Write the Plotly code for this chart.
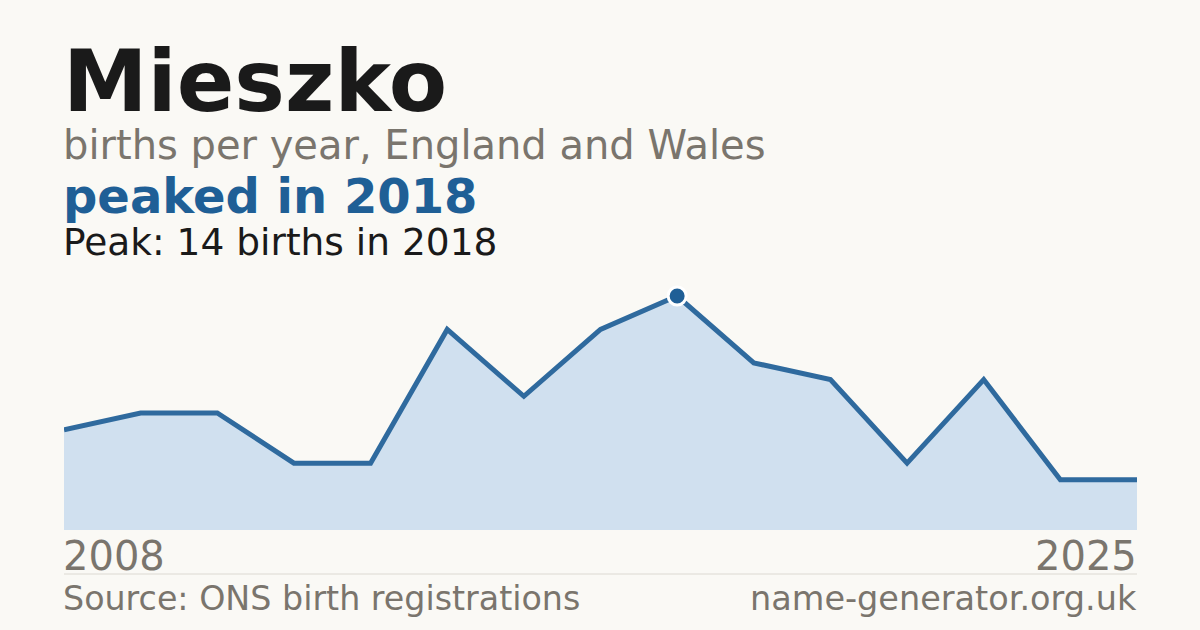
import plotly.graph_objects as go

# ── data ─────────────────────────────────────────────────────────────────────
NAME = "Mieszko"
YEARS = ["2008", "2009", "2010", "2011", "2012", "2014", "2016", "2017",
         "2018", "2019", "2020", "2021", "2022", "2024", "2025"]
BIRTHS = [6, 7, 7, 4, 4, 12, 8, 12, 14, 10, 9, 4, 9, 3, 3]
PEAK_YEAR = "2018"
PEAK_VALUE = 14

# ── colours ──────────────────────────────────────────────────────────────────
BG = "#faf9f5"
BLUE = "#1f5f96"
LINE = "#2f6a9e"
FILL = "#d0e0ef"
GREY = "#7a756d"
INK = "#1a1a1a"
FONT = "DejaVu Sans"

W, H = 1200, 630
PLOT_L, PLOT_R, PLOT_T, PLOT_B = 64, 1137, 296, 530


def py(ypx):
    """pixel y -> paper y"""
    return (PLOT_B - ypx) / (PLOT_B - PLOT_T)


def px(xpx):
    return (xpx - PLOT_L) / (PLOT_R - PLOT_L)


fig = go.Figure()

fig.add_trace(go.Scatter(
    x=YEARS, y=BIRTHS,
    mode="lines",
    fill="tozeroy",
    fillcolor=FILL,
    line=dict(color=LINE, width=5),
    hoverinfo="skip",
    cliponaxis=False,
))

fig.add_trace(go.Scatter(
    x=[PEAK_YEAR], y=[PEAK_VALUE],
    mode="markers",
    marker=dict(color=BLUE, size=18, line=dict(color="white", width=3)),
    hoverinfo="skip",
    cliponaxis=False,
))

texts = [
    # text, x px, y px (middle), size, color, bold
    (NAME, 61, 82, 85, INK, True),
    ("births per year, England and Wales", 61, 145, 40, GREY, False),
    ("peaked in 2018", 61, 196, 48, BLUE, True),
    ("Peak: 14 births in 2018", 61, 242, 37.5, INK, False),
    ("Source: ONS birth registrations", 61, 598, 33.3, GREY, False),
]
annotations = []
for t, x, y, s, c, b in texts:
    annotations.append(dict(
        text=f"<b>{t}</b>" if b else t,
        xref="paper", yref="paper", x=px(x), y=py(y),
        xanchor="left", yanchor="middle", showarrow=False,
        font=dict(family=FONT, size=s, color=c),
    ))
annotations.append(dict(
    text="name-generator.org.uk", xref="paper", yref="paper",
    x=px(1139), y=py(598), xanchor="right", yanchor="middle", showarrow=False,
    font=dict(family=FONT, size=33.5, color=GREY),
))
# first / last year labels
annotations.append(dict(
    text=YEARS[0], xref="paper", yref="paper", x=px(61), y=py(556),
    xanchor="left", yanchor="middle", showarrow=False,
    font=dict(family=FONT, size=40, color=GREY),
))
annotations.append(dict(
    text=YEARS[-1], xref="paper", yref="paper", x=px(1139), y=py(556),
    xanchor="right", yanchor="middle", showarrow=False,
    font=dict(family=FONT, size=40, color=GREY),
))

fig.update_layout(
    width=W, height=H,
    paper_bgcolor=BG, plot_bgcolor=BG,
    margin=dict(l=PLOT_L, r=W - PLOT_R, t=PLOT_T, b=H - PLOT_B, pad=0),
    showlegend=False,
    annotations=annotations,
    shapes=[dict(
        type="line", xref="paper", yref="paper",
        x0=0, x1=1, y0=py(574), y1=py(574),
        line=dict(color="#dcd9d2", width=1),
    )],
    xaxis=dict(type="category", range=[0, len(YEARS) - 1], visible=False,
               fixedrange=True),
    yaxis=dict(range=[0, PEAK_VALUE], visible=False, fixedrange=True),
)

fig.write_html(
    "out.html",
    config={"displayModeBar": False},
    post_script=f"document.body.style.margin='0';"
                f"document.body.style.background='{BG}';",
)
